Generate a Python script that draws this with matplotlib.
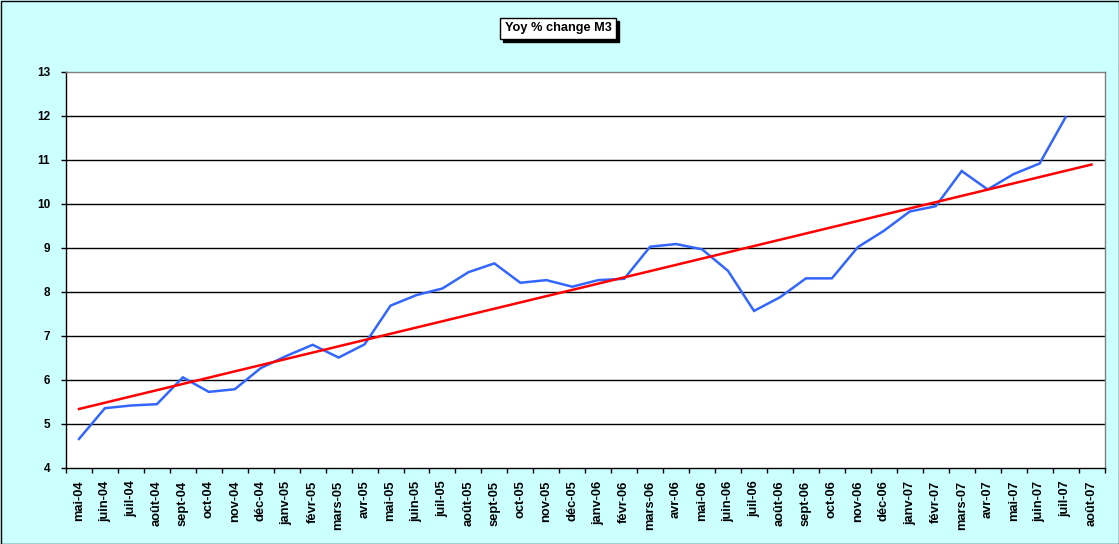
import numpy as np
import matplotlib
matplotlib.use('Agg')
import matplotlib.pyplot as plt
from matplotlib.patches import Rectangle

# month labels, mai-04 .. août-07
months = ['mai-04', 'juin-04', 'juil-04', 'août-04', 'sept-04', 'oct-04', 'nov-04', 'déc-04',
          'janv-05', 'févr-05', 'mars-05', 'avr-05', 'mai-05', 'juin-05', 'juil-05', 'août-05',
          'sept-05', 'oct-05', 'nov-05', 'déc-05',
          'janv-06', 'févr-06', 'mars-06', 'avr-06', 'mai-06', 'juin-06', 'juil-06', 'août-06',
          'sept-06', 'oct-06', 'nov-06', 'déc-06',
          'janv-07', 'févr-07', 'mars-07', 'avr-07', 'mai-07', 'juin-07', 'juil-07', 'août-07']

# yoy % change of M3 (no value yet for août-07)
m3_yoy = [4.66, 5.36, 5.42, 5.45, 6.06, 5.73, 5.79, 6.27,
          6.55, 6.80, 6.51, 6.81, 7.69, 7.93, 8.08, 8.45,
          8.65, 8.21, 8.27, 8.12,
          8.27, 8.30, 9.03, 9.09, 8.97, 8.48, 7.57, 7.88,
          8.31, 8.31, 9.02, 9.39,
          9.83, 9.95, 10.75, 10.33, 10.68, 10.92, 11.97]

y_ticks = list(range(4, 14))

bg = '#CCFFFF'
blue = '#3366FF'
red = '#FF0000'
plt.rcParams['font.family'] = ['Liberation Sans', 'DejaVu Sans']

W, H = 1119, 544
fig = plt.figure(figsize=(W / 100, H / 100), dpi=100, facecolor=bg)
ax = fig.add_axes([66 / W, 1 - 468 / H, (1104.5 - 66) / W, (468 - 72) / H])
ax.set_facecolor('white')

x = np.arange(len(m3_yoy))
ax.plot(x, m3_yoy, color=blue, lw=1.8, solid_joinstyle='miter', zorder=3)

# linear trend, like the Excel trendline, carried to the last month
coef = np.polyfit(x, m3_yoy, 1)
xt = np.arange(len(months))
ax.plot(xt, np.polyval(coef, xt), color=red, lw=1.8, zorder=4)

ax.set_xlim(-0.5, len(months) - 0.5)
ax.set_ylim(y_ticks[0], y_ticks[-1])
ax.set_yticks(y_ticks)
ax.set_yticklabels([str(v) for v in y_ticks], fontsize=8.5, fontweight='bold')
for v in y_ticks[1:-1]:
    ax.axhline(v, color='black', lw=1, zorder=1)

ax.set_xticks(xt)
ax.set_xticklabels(months, rotation=90, fontsize=9.3, fontweight='bold', va='top', ha='center')
ax.set_xticks(np.arange(len(months) + 1) - 0.5, minor=True)
ax.tick_params(axis='x', which='major', length=0, pad=9)
ax.tick_params(axis='x', which='minor', length=3.5, width=1, direction='out', color='black')
ax.tick_params(axis='y', length=3.5, width=1, direction='out', pad=8, color='black')

ax.spines['left'].set_color('black')
ax.spines['bottom'].set_color('black')
ax.spines['top'].set_color('#808080')
ax.spines['right'].set_color('#808080')
for s in ax.spines.values():
    s.set_linewidth(1)

# title box with a drop shadow
title = fig.text(558 / W, 1 - 28.5 / H, 'Yoy % change M3', ha='center', va='center',
                 fontsize=9.2, fontweight='bold', zorder=5,
                 bbox=dict(boxstyle='square,pad=0.38', fc='white', ec='black', lw=1))
fig.canvas.draw()
bb = title.get_bbox_patch().get_window_extent()
fig.patches.append(Rectangle((bb.x0 + 3, bb.y0 - 3), bb.width, bb.height, transform=None,
                             fc='black', ec='black', zorder=1))

# outer border of the chart
fig.patches.append(Rectangle((0.5 / W, 0.5 / H), 1 - 1 / W, 1 - 1 / H,
                             transform=fig.transFigure, fill=False, ec='black', lw=1))

fig.savefig('out.png', dpi=100, facecolor=bg)
